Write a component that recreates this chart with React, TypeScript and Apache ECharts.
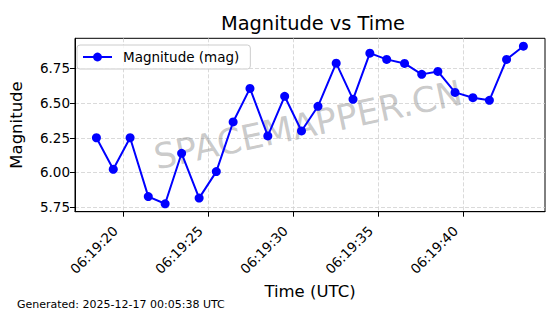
import React, { useEffect, useRef } from "react";
import * as echarts from "echarts";

const times = [
  "06:19:18.43", "06:19:19.42", "06:19:20.41", "06:19:21.48", "06:19:22.47",
  "06:19:23.44", "06:19:24.47", "06:19:25.48", "06:19:26.47", "06:19:27.46",
  "06:19:28.51", "06:19:29.50", "06:19:30.49", "06:19:31.46", "06:19:32.53",
  "06:19:33.52", "06:19:34.51", "06:19:35.50", "06:19:36.55", "06:19:37.56",
  "06:19:38.51", "06:19:39.52", "06:19:40.57", "06:19:41.54", "06:19:42.55",
  "06:19:43.54",
];
const magnitudes = [
  6.25, 6.023, 6.25, 5.826, 5.774, 6.138, 5.815, 6.006, 6.364, 6.606,
  6.263, 6.549, 6.299, 6.477, 6.788, 6.527, 6.86, 6.815, 6.786, 6.707,
  6.728, 6.577, 6.539, 6.52, 6.815, 6.91,
];
const xTickLabels = ["06:19:20", "06:19:25", "06:19:30", "06:19:35", "06:19:40"];
const yTicks = [5.75, 6.0, 6.25, 6.5, 6.75];
const seriesName = "Magnitude (mag)";
const titleText = "Magnitude vs Time";
const footerText = "Generated: 2025-12-17 00:05:38 UTC";
const watermarkText = "SPACEMAPPER.CN";

const toMs = (s: string) => {
  const [h, m, sec] = s.split(":");
  return ((Number(h) * 60 + Number(m)) * 60 + Number(sec)) * 1000;
};
const pad = (n: number) => String(n).padStart(2, "0");
const fmtTime = (ms: number) => {
  const t = Math.round(ms / 1000);
  const h = Math.floor(t / 3600);
  const m = Math.floor((t % 3600) / 60);
  const s = t % 60;
  return `${pad(h)}:${pad(m)}:${pad(s)}`;
};

const FONT = "DejaVu Sans";

export default function App() {
  const ref = useRef<HTMLDivElement>(null);
  useEffect(() => {
    document.body.style.margin = "0";
    if (!ref.current) return;
    const chart = echarts.init(ref.current, undefined, { renderer: "svg" });
    const xTickVals = xTickLabels.map(toMs);
    const data = times.map((t, i) => [toMs(t), magnitudes[i]]);
    chart.setOption({
      animation: false,
      backgroundColor: "#ffffff",
      textStyle: { fontFamily: FONT },
      title: {
        text: titleText,
        left: 308,
        top: 9,
        textAlign: "center",
        textStyle: { fontFamily: FONT, fontSize: 19.4, fontWeight: "normal", color: "#000" },
      },
      legend: {
        left: 77,
        top: 45,
        orient: "vertical",
        padding: [5, 11, 5, 5],
        itemWidth: 29,
        itemHeight: 11,
        borderColor: "#cccccc",
        borderWidth: 1,
        borderRadius: 3,
        backgroundColor: "rgba(255,255,255,0.8)",
        textStyle: { fontFamily: FONT, fontSize: 13.5, color: "#000", padding: [0, 0, 0, 6] },
        data: [seriesName],
      },
      grid: {
        left: 70.7,
        right: 15,
        top: 38.3,
        bottom: 102.3,
        show: true,
        borderColor: "#000",
        borderWidth: 1,
        backgroundColor: "transparent",
        containLabel: false,
      },
      xAxis: {
        type: "value",
        min: toMs("06:19:17.17"),
        max: toMs("06:19:44.81"),
        name: "Time (UTC)",
        nameLocation: "middle",
        nameGap: 70,
        nameTextStyle: { fontFamily: FONT, fontSize: 16.5, color: "#000" },
        axisLine: { show: true, onZero: false, lineStyle: { color: "#000", width: 1 } },
        axisTick: { show: true, length: 5, customValues: xTickVals, lineStyle: { color: "#000" } },
        axisLabel: {
          customValues: xTickVals,
          rotate: 45,
          margin: 9,
          padding: [0, 11, 0, 0],
          fontFamily: FONT,
          fontSize: 13.5,
          color: "#000",
          formatter: (v: number) => fmtTime(v),
        },
        splitLine: {
          show: true,
          lineStyle: { color: "#d0d0d0", type: [4, 2], width: 0.8 },
        },
      },
      yAxis: {
        type: "value",
        min: 5.717,
        max: 6.967,
        name: "Magnitude",
        nameLocation: "middle",
        nameGap: 50,
        nameRotate: 90,
        nameTextStyle: { fontFamily: FONT, fontSize: 16.5, color: "#000" },
        axisLine: { show: true, lineStyle: { color: "#000", width: 1 } },
        axisTick: { show: true, length: 5, customValues: yTicks, lineStyle: { color: "#000" } },
        axisLabel: {
          customValues: yTicks,
          margin: 5,
          fontFamily: FONT,
          fontSize: 13.5,
          color: "#000",
          formatter: (v: number) => v.toFixed(2),
        },
        splitLine: {
          show: true,
          lineStyle: { color: "#d0d0d0", type: [4, 2], width: 0.8 },
        },
      },
      graphic: [
        {
          type: "text",
          x: 308,
          y: 125,
          rotation: 0.21,
          z: 1,
          style: {
            text: watermarkText,
            fontFamily: FONT,
            fontSize: 35,
            fill: "rgba(128,128,128,0.42)",
            textAlign: "center",
            textVerticalAlign: "middle",
          },
        },
        {
          type: "text",
          left: 17,
          top: 299,
          style: {
            text: footerText,
            fontFamily: FONT,
            fontSize: 11,
            fill: "#000",
          },
        },
      ],
      series: [
        {
          name: seriesName,
          type: "line",
          data,
          symbol: "circle",
          symbolSize: 9,
          z: 3,
          lineStyle: { color: "#0000ff", width: 2 },
          itemStyle: { color: "#0000ff" },
        },
      ],
    });
    return () => chart.dispose();
  }, []);
  return <div ref={ref} style={{ width: 560, height: 314 }} />;
}
